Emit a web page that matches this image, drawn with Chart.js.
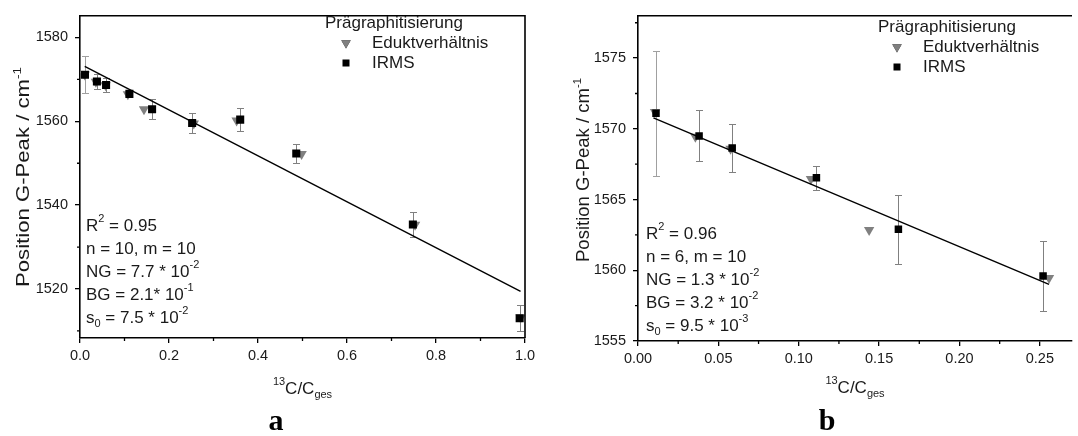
<!DOCTYPE html>
<html>
<head>
<meta charset="utf-8">
<script src="https://cdn.jsdelivr.net/npm/chart.js@4.4.0/dist/chart.umd.min.js"></script>
<style>
body { margin: 0; background: #fff; }
#wrap { position: relative; width: 1078px; height: 436px; }
canvas { position: absolute; top: 0; }
#chartA { left: 0; }
#chartB { left: 540px; }
</style>
</head>
<body>
<div id="wrap">
  <canvas id="chartA" width="540" height="436"></canvas>
  <canvas id="chartB" width="538" height="436"></canvas>
</div>
<script>
// ---- panel a: all samples ----
const irmsXA = [0.0112, 0.038, 0.0586, 0.111, 0.162, 0.252, 0.360, 0.486, 0.748, 0.988];
const irmsYA = [1571.1, 1569.5, 1568.65, 1566.55, 1562.9, 1559.6, 1560.4, 1552.3, 1535.4, 1513.0];
const irmsErrA = [4.4, 1.8, 1.7, 0.85, 2.45, 2.5, 2.7, 2.3, 3.05, 3.1];
const eduktXA = [0.0106, 0.0357, 0.0576, 0.1076, 0.1438, 0.2557, 0.352, 0.498, 0.753, 0.99];
const eduktYA = [1571.2, 1569.45, 1568.6, 1566.45, 1562.85, 1559.45, 1560.2, 1552.2, 1535.3, 1513.2];
const fitXA = [0.0106, 0.99];
const fitYA = [1573.1, 1519.4];
const xTicksA = [0, 0.2, 0.4, 0.6, 0.8, 1.0];
const xLabelsA = ['0.0', '0.2', '0.4', '0.6', '0.8', '1.0'];
const xMinorA = [0.1, 0.3, 0.5, 0.7, 0.9];
const yTicksA = [1520, 1540, 1560, 1580];
const yLabelsA = ['1520', '1540', '1560', '1580'];
const yMinorA = [1510, 1530, 1550, 1570];

// ---- panel b: low 13C range ----
const irmsXB = [0.0112, 0.038, 0.0586, 0.111, 0.162, 0.252];
const irmsYB = [1571.1, 1569.5, 1568.65, 1566.55, 1562.9, 1559.6];
const irmsErrB = [4.4, 1.8, 1.7, 0.85, 2.45, 2.5];
const eduktXB = [0.0106, 0.0357, 0.0576, 0.1076, 0.1438, 0.2557];
const eduktYB = [1571.2, 1569.45, 1568.6, 1566.45, 1562.85, 1559.45];
const fitXB = [0.0096, 0.2557];
const fitYB = [1570.77, 1559.0];
const xTicksB = [0, 0.05, 0.10, 0.15, 0.20, 0.25];
const xLabelsB = ['0.00', '0.05', '0.10', '0.15', '0.20', '0.25'];
const xMinorB = [0.025, 0.075, 0.125, 0.175, 0.225];
const yTicksB = [1555, 1560, 1565, 1570, 1575];
const yLabelsB = ['1555', '1560', '1565', '1570', '1575'];
const yMinorB = [1557.5, 1562.5, 1567.5, 1572.5, 1577.5];

// statistics text (sup / sub marked)
const statsA = [
  [['R'], ['2', 'sup'], [' = 0.95']],
  [['n = 10, m = 10']],
  [['NG = 7.7 * 10'], ['-2', 'sup']],
  [['BG = 2.1* 10'], ['-1', 'sup']],
  [['s'], ['0', 'sub'], [' = 7.5 * 10'], ['-2', 'sup']]
];
const statsB = [
  [['R'], ['2', 'sup'], [' = 0.96']],
  [['n = 6, m = 10']],
  [['NG = 1.3 * 10'], ['-2', 'sup']],
  [['BG = 3.2 * 10'], ['-2', 'sup']],
  [['s'], ['0', 'sub'], [' = 9.5 * 10'], ['-3', 'sup']]
];

const FONT = '"Liberation Sans", Arial, sans-serif';
const TXT = '#1a1a1a';

function pts(xs, ys) {
  return xs.map((x, i) => ({ x: x, y: ys[i] }));
}

function drawRich(ctx, segs, x, y, size, align, supRaise) {
  const parts = segs.map(s => ({ t: s[0], k: s[1], fs: s[1] ? Math.round(size * 0.62) : size }));
  let w = 0;
  parts.forEach(p => {
    ctx.font = p.fs + 'px ' + FONT;
    p.w = ctx.measureText(p.t).width;
    w += p.w;
  });
  let cx = align === 'center' ? x - w / 2 : x;
  ctx.textAlign = 'left';
  ctx.textBaseline = 'alphabetic';
  parts.forEach(p => {
    ctx.font = p.fs + 'px ' + FONT;
    let dy = 0;
    if (p.k === 'sup') dy = -(supRaise || size * 0.5);
    if (p.k === 'sub') dy = size * 0.22;
    ctx.fillText(p.t, cx, y + dy);
    cx += p.w;
  });
  return w;
}

function richWidth(ctx, segs, size) {
  let w = 0;
  segs.forEach(s => {
    ctx.font = (s[1] ? Math.round(size * 0.62) : size) + 'px ' + FONT;
    w += ctx.measureText(s[0]).width;
  });
  return w;
}

function decorations(o) {
  return {
    id: 'decor',
    beforeDatasetsDraw(chart) {
      // error bars of the IRMS series
      const ctx = chart.ctx, xs = chart.scales.x, ys = chart.scales.y;
      ctx.save();
      ctx.lineWidth = 1;
      o.errX.forEach((x, i) => {
        const px = Math.round(xs.getPixelForValue(x)) + 0.5;
        const top = Math.round(ys.getPixelForValue(o.errY[i] + o.err[i])) + 0.5;
        const bot = Math.round(ys.getPixelForValue(o.errY[i] - o.err[i])) + 0.5;
        ctx.strokeStyle = i === 0 ? '#a0a0a0' : '#808080';
        ctx.beginPath();
        ctx.moveTo(px, top); ctx.lineTo(px, bot);
        ctx.moveTo(px - 3.5, top); ctx.lineTo(px + 3.5, top);
        ctx.moveTo(px - 3.5, bot); ctx.lineTo(px + 3.5, bot);
        ctx.stroke();
      });
      ctx.restore();
    },
    afterDraw(chart) {
      const ctx = chart.ctx, ca = chart.chartArea, xs = chart.scales.x, ys = chart.scales.y;
      ctx.save();
      // frame
      ctx.strokeStyle = '#000';
      ctx.lineWidth = 1.6;
      ctx.beginPath();
      ctx.moveTo(ca.left, ca.top); ctx.lineTo(ca.right, ca.top);
      if (o.rightBorder) ctx.lineTo(ca.right, ca.bottom);
      ctx.stroke();
      // minor ticks
      ctx.lineWidth = 1.3;
      ctx.beginPath();
      o.minorX.forEach(v => {
        const p = xs.getPixelForValue(v);
        ctx.moveTo(p, ca.bottom); ctx.lineTo(p, ca.bottom + 3);
      });
      o.minorY.forEach(v => {
        const p = ys.getPixelForValue(v);
        ctx.moveTo(ca.left, p); ctx.lineTo(ca.left - 3, p);
      });
      ctx.stroke();

      ctx.fillStyle = TXT;
      // y title, stretched along its length like the original export
      const ySegs = [['Position G-Peak / cm'], ['-1', 'sup']];
      const yw = richWidth(ctx, ySegs, 18);
      ctx.save();
      ctx.translate(o.yTitleX, o.yTitleY);
      ctx.rotate(-Math.PI / 2);
      ctx.scale(o.yTitleLen / yw, 1);
      drawRich(ctx, ySegs, 0, 0, 18, 'center', 8);
      ctx.restore();

      // x title
      const xc = (ca.left + ca.right) / 2;
      drawRich(ctx, [['13', 'sup'], ['C/C'], ['ges', 'sub']], xc, o.xTitleY, 17, 'center', 9);

      // statistics block
      o.stats.forEach((line, i) => {
        drawRich(ctx, line, o.statsX, o.statsY + i * 23, 17, 'left', 9);
      });

      // legend
      const lg = o.legend;
      ctx.font = '17px ' + FONT;
      ctx.textAlign = 'left';
      ctx.fillText('Prägraphitisierung', lg.x, lg.y);
      Chart.helpers.drawPoint(ctx, { pointStyle: 'triangle', rotation: 180, radius: 5.5 }, lg.mx, lg.y + 15);
      ctx.fillStyle = '#808080';
      ctx.fill();
      ctx.fillStyle = TXT;
      ctx.fillText('Eduktverhältnis', lg.tx, lg.y + 20);
      ctx.fillStyle = '#000';
      ctx.fillRect(lg.mx - 3.5, lg.y + 35 - 3.5, 7, 7);
      ctx.fillStyle = TXT;
      ctx.fillText('IRMS', lg.tx, lg.y + 40);

      // panel letter
      ctx.fillStyle = '#000';
      ctx.font = 'bold 30px "Liberation Serif", "DejaVu Serif", serif';
      ctx.textAlign = 'center';
      ctx.fillText(o.letter, o.letterX, 430);
      ctx.restore();
    }
  };
}

function makeChart(id, o) {
  return new Chart(document.getElementById(id), {
    type: 'scatter',
    data: {
      datasets: [
        { label: 'IRMS', data: o.irms, pointStyle: 'rect', pointRadius: o.sq, pointHoverRadius: o.sq,
          backgroundColor: '#000', borderWidth: 0, order: 0 },
        { label: 'Fit', data: o.fit, showLine: true, pointRadius: 0, pointHoverRadius: 0,
          borderColor: '#000', borderWidth: 1.4, order: 1 },
        { label: 'Eduktverhältnis', data: o.edukt, pointStyle: 'triangle', rotation: 180,
          pointRadius: 6, pointHoverRadius: 6, backgroundColor: '#808080', borderWidth: 0, order: 2 }
      ]
    },
    options: {
      responsive: false,
      animation: false,
      events: [],
      layout: { padding: o.padding },
      plugins: { legend: { display: false }, tooltip: { enabled: false } },
      scales: {
        x: {
          type: 'linear', min: o.xMin, max: o.xMax,
          afterBuildTicks: ax => { ax.ticks = o.xTicks.map(v => ({ value: v })); },
          afterFit: s => { s.height = o.xh; },
          ticks: { callback: (v, i) => o.xLabels[i], font: { family: FONT, size: 14.5 }, color: TXT,
                   padding: 4, maxRotation: 0, autoSkip: false },
          grid: { drawOnChartArea: false, tickLength: 5, tickColor: '#000', lineWidth: 1.3 },
          border: { color: '#000', width: 1.6 }
        },
        y: {
          type: 'linear', min: o.yMin, max: o.yMax,
          afterBuildTicks: ax => { ax.ticks = o.yTicks.map(v => ({ value: v })); },
          afterFit: s => { s.width = o.yw; },
          ticks: { callback: (v, i) => o.yLabels[i], font: { family: FONT, size: 14.5 }, color: TXT,
                   padding: 7, autoSkip: false },
          grid: { drawOnChartArea: false, tickLength: 5, tickColor: '#000', lineWidth: 1.3 },
          border: { color: '#000', width: 1.6 }
        }
      }
    },
    plugins: [decorations(o)]
  });
}

makeChart('chartA', {
  irms: pts(irmsXA, irmsYA), edukt: pts(eduktXA, eduktYA), fit: pts(fitXA, fitYA),
  errX: irmsXA, errY: irmsYA, err: irmsErrA,
  xMin: 0, xMax: 1.0, yMin: 1508.3, yMax: 1585.2,
  xTicks: xTicksA, xLabels: xLabelsA, yTicks: yTicksA, yLabels: yLabelsA,
  minorX: xMinorA, minorY: yMinorA,
  padding: { left: 0, right: 15, top: 10, bottom: 0 }, yw: 80, xh: 98, sq: 5.7,
  rightBorder: true,
  yTitleX: 28.5, yTitleY: 177, yTitleLen: 220,
  xTitleY: 394, stats: statsA, statsX: 86, statsY: 231,
  legend: { x: 325, y: 28, mx: 346, tx: 372 },
  letter: 'a', letterX: 276
});

makeChart('chartB', {
  irms: pts(irmsXB, irmsYB), edukt: pts(eduktXB, eduktYB), fit: pts(fitXB, fitYB),
  errX: irmsXB, errY: irmsYB, err: irmsErrB,
  xMin: 0, xMax: 0.27, yMin: 1555, yMax: 1578,
  xTicks: xTicksB, xLabels: xLabelsB, yTicks: yTicksB, yLabels: yLabelsB,
  minorX: xMinorB, minorY: yMinorB,
  padding: { left: 0, right: 0, top: 14, bottom: 0 }, yw: 98, xh: 95, sq: 5.3,
  rightBorder: false,
  yTitleX: 48.5, yTitleY: 170, yTitleLen: 184,
  xTitleY: 393, stats: statsB, statsX: 106, statsY: 239,
  legend: { x: 338, y: 32, mx: 357, tx: 383 },
  letter: 'b', letterX: 287
});
</script>
</body>
</html>
